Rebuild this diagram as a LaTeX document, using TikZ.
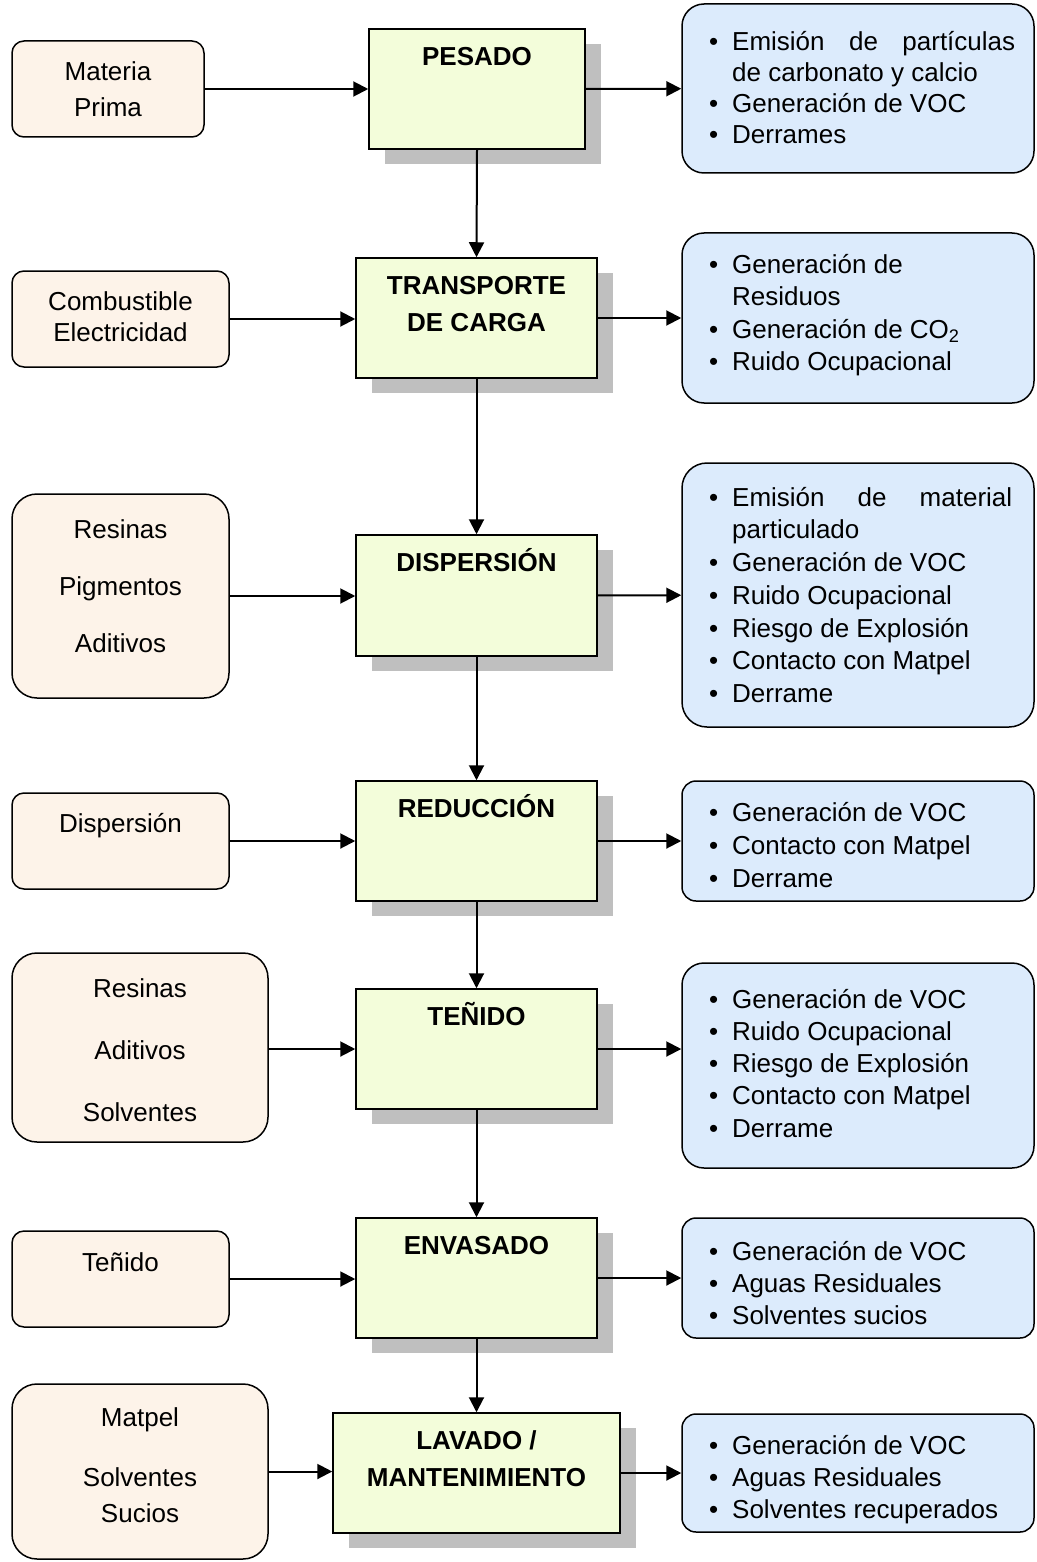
\documentclass[tikz,border=0pt]{standalone}
\usepackage{fontspec}
\setmainfont{Liberation Sans}
\usetikzlibrary{arrows.meta,shadows}
\definecolor{peach}{RGB}{253,243,233}
\definecolor{lgreen}{RGB}{243,253,218}
\definecolor{lblue}{RGB}{220,235,252}
\definecolor{shgray}{RGB}{191,191,191}
\newcommand\bitem{\makebox[23pt][l]{\textbullet}}
\newcommand\bcont{\makebox[23pt][l]{}}
\tikzset{
  inbox/.style={draw=black, line width=1.5pt, fill=peach, rounded corners=#1, inner sep=0pt},
  inbox/.default=12pt,
  procbox/.style={draw=black, line width=1.5pt, fill=lgreen, inner sep=0pt,
    general shadow={fill=shgray, shadow xshift=16pt, shadow yshift=-15pt}},
  outbox/.style={draw=black, line width=1.5pt, fill=lblue, rounded corners=#1, inner sep=0pt, minimum width=352pt},
  outbox/.default=22pt,
  arr/.style={line width=2pt, -{Triangle[length=15pt,width=15pt]}},
  ctxt/.style={inner sep=0pt, align=center, anchor=north},
  btxt/.style={inner sep=0pt, align=left, anchor=north west},
}
\begin{document}
\begin{tikzpicture}[x=1pt,y=-1pt]
\fill[white] (0,0) rectangle (1036,1562);
\useasboundingbox (0,0) rectangle (1036,1562);

% input boxes
\node[inbox, minimum width=192pt, minimum height=96pt] (p1) at (108,89) {};
\node[inbox, minimum width=217pt, minimum height=96pt] (p2) at (120.5,319) {};
\node[inbox=25pt, minimum width=217pt, minimum height=204pt] (p3) at (120.5,596) {};
\node[inbox, minimum width=217pt, minimum height=96pt] (p4) at (120.5,841) {};
\node[inbox=25pt, minimum width=256pt, minimum height=189pt] (p5) at (140,1047.5) {};
\node[inbox, minimum width=217pt, minimum height=96pt] (p6) at (120.5,1279) {};
\node[inbox=25pt, minimum width=256pt, minimum height=175pt] (p7) at (140,1471.5) {};

% process boxes
\node[procbox, minimum width=216pt, minimum height=120pt] (g1) at (477,89) {};
\node[procbox, minimum width=241pt, minimum height=120pt] (g2) at (476.5,318) {};
\node[procbox, minimum width=241pt, minimum height=121pt] (g3) at (476.5,595.5) {};
\node[procbox, minimum width=241pt, minimum height=120pt] (g4) at (476.5,841) {};
\node[procbox, minimum width=241pt, minimum height=120pt] (g5) at (476.5,1049) {};
\node[procbox, minimum width=241pt, minimum height=120pt] (g6) at (476.5,1278) {};
\node[procbox, minimum width=287pt, minimum height=120pt] (g7) at (476.5,1473) {};

% output boxes
\node[outbox, minimum height=169pt] (b1) at (858,88.5) {};
\node[outbox, minimum height=170pt] (b2) at (858,318) {};
\node[outbox=25pt, minimum height=264pt] (b3) at (858,595) {};
\node[outbox=14pt, minimum height=120pt] (b4) at (858,841) {};
\node[outbox, minimum height=205pt] (b5) at (858,1065.5) {};
\node[outbox=14pt, minimum height=120pt] (b6) at (858,1278) {};
\node[outbox=14pt, minimum height=118pt] (b7) at (858,1473) {};

% input texts
\node[ctxt, font=\fontsize{26}{36}\selectfont] (p1t) at (108,54) {\rule{0pt}{26pt}Materia\\Prima};
\node[ctxt, font=\fontsize{26}{31}\selectfont] (p2t) at (120.5,284) {\rule{0pt}{26pt}Combustible\\Electricidad};
\node[ctxt, font=\fontsize{26}{57}\selectfont] (p3t) at (120.5,512) {\rule{0pt}{26pt}Resinas\\Pigmentos\\Aditivos};
\node[ctxt, font=\fontsize{26}{31}\selectfont] (p4t) at (120.5,806) {\rule{0pt}{26pt}Dispersión};
\node[ctxt, font=\fontsize{26}{62}\selectfont] (p5t) at (140,971) {\rule{0pt}{26pt}Resinas\\Aditivos\\Solventes};
\node[ctxt, font=\fontsize{26}{31}\selectfont] (p6t) at (120.5,1245) {\rule{0pt}{26pt}Teñido};
\node[ctxt, font=\fontsize{26}{36}\selectfont] (p7t) at (140,1400) {\rule{0pt}{26pt}Matpel\\[24pt]Solventes\\Sucios};

% process texts
\node[ctxt, font=\fontsize{26}{37}\selectfont\bfseries] (g1t) at (477,39.5) {\rule{0pt}{26pt}PESADO};
\node[ctxt, font=\fontsize{26}{37}\selectfont\bfseries] (g2t) at (476.5,268) {\rule{0pt}{26pt}TRANSPORTE\\DE CARGA};
\node[ctxt, font=\fontsize{26}{37}\selectfont\bfseries] (g3t) at (476.5,545.5) {\rule{0pt}{26pt}DISPERSIÓN};
\node[ctxt, font=\fontsize{26}{37}\selectfont\bfseries] (g4t) at (476.5,791.5) {\rule{0pt}{26pt}REDUCCIÓN};
\node[ctxt, font=\fontsize{26}{37}\selectfont\bfseries] (g5t) at (476.5,999.5) {\rule{0pt}{26pt}TEÑIDO};
\node[ctxt, font=\fontsize{26}{37}\selectfont\bfseries] (g6t) at (476.5,1228.5) {\rule{0pt}{26pt}ENVASADO};
\node[ctxt, font=\fontsize{26}{37}\selectfont\bfseries] (g7t) at (476.5,1423.5) {\rule{0pt}{26pt}LAVADO /\\MANTENIMIENTO};

% output texts
\node[btxt, font=\fontsize{26}{31}\selectfont] (b1t) at (709,24) {\rule{0pt}{26pt}\bitem\makebox[283pt][s]{Emisión de partículas}\\
\bcont de carbonato y calcio\\
\bitem Generación de VOC\\
\bitem Derrames};
\node[btxt, font=\fontsize{26}{32.5}\selectfont] (b2t) at (709,247) {\rule{0pt}{26pt}\bitem Generación de\\
\bcont Residuos\\
\bitem Generación de CO\textsubscript{2}\\
\bitem Ruido Ocupacional};
\node[btxt, font=\fontsize{26}{32.7}\selectfont] (b3t) at (709,480) {\rule{0pt}{26pt}\bitem\makebox[280pt][s]{Emisión de material}\\
\bcont particulado\\
\bitem Generación de VOC\\
\bitem Ruido Ocupacional\\
\bitem Riesgo de Explosión\\
\bitem Contacto con Matpel\\
\bitem Derrame};
\node[btxt, font=\fontsize{26}{33}\selectfont] (b4t) at (709,795) {\rule{0pt}{26pt}\bitem Generación de VOC\\
\bitem Contacto con Matpel\\
\bitem Derrame};
\node[btxt, font=\fontsize{26}{32.25}\selectfont] (b5t) at (709,982) {\rule{0pt}{26pt}\bitem Generación de VOC\\
\bitem Ruido Ocupacional\\
\bitem Riesgo de Explosión\\
\bitem Contacto con Matpel\\
\bitem Derrame};
\node[btxt, font=\fontsize{26}{32}\selectfont] (b6t) at (709,1234) {\rule{0pt}{26pt}\bitem Generación de VOC\\
\bitem Aguas Residuales\\
\bitem Solventes sucios};
\node[btxt, font=\fontsize{26}{32}\selectfont] (b7t) at (709,1428) {\rule{0pt}{26pt}\bitem Generación de VOC\\
\bitem Aguas Residuales\\
\bitem Solventes recuperados};

% connectors: inputs
\draw[arr] (p1) -- (g1);
\draw[arr] (p2.east) -- (p2.east -| g2.west);
\draw[arr] (p3.east) -- (p3.east -| g3.west);
\draw[arr] (p4) -- (g4);
\draw[arr] (g5.west -| p5.east) -- (g5.west);
\draw[arr] (p6.east) -- (p6.east -| g6.west);
\draw[arr] (p7.east) -- (p7.east -| g7.west);
% connectors: outputs
\draw[arr] (g1) -- (b1);
\draw[arr] (g2) -- (b2);
\draw[arr] (g3) -- (b3);
\draw[arr] (g4) -- (b4);
\draw[arr] (g5.east) -- (g5.east -| b5.west);
\draw[arr] (g6) -- (b6);
\draw[arr] (g7) -- (b7);
% connectors: process chain
\draw[arr] (g1.south) -- (g2.north);
\draw[arr] (g2.south) -- (g3.north);
\draw[arr] (g3.south) -- (g4.north);
\draw[arr] (g4.south) -- (g5.north);
\draw[arr] (g5.south) -- (g6.north);
\draw[arr] (g6.south) -- (g7.north);
\end{tikzpicture}
\end{document}
